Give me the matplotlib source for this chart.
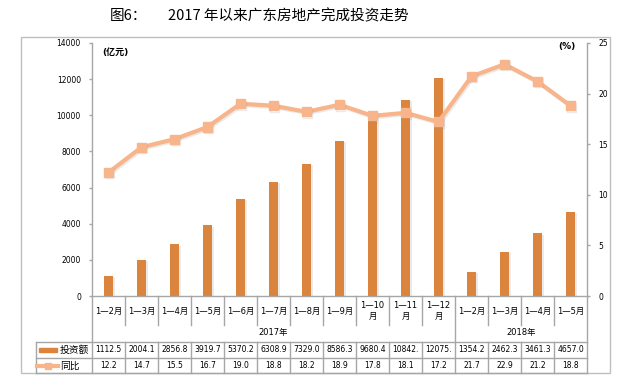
import matplotlib
matplotlib.use("Agg")
import matplotlib.pyplot as plt
import matplotlib.patheffects as pe
from matplotlib import transforms
from matplotlib.patches import Rectangle
import numpy as np

plt.rcParams['font.family'] = ['DejaVu Sans', 'Noto Sans CJK SC']

# data
months = ["1—2月", "1—3月", "1—4月", "1—5月", "1—6月", "1—7月", "1—8月",
          "1—9月", "1—10\n月", "1—11\n月", "1—12\n月",
          "1—2月", "1—3月", "1—4月", "1—5月"]
years = ["2017年", "2018年"]
year_counts = [11, 4]
invest = [1112.5, 2004.1, 2856.8, 3919.7, 5370.2, 6308.9, 7329.0, 8586.3,
          9680.4, 10842.0, 12075.0, 1354.2, 2462.3, 3461.3, 4657.0]
yoy = [12.2, 14.7, 15.5, 16.7, 19.0, 18.8, 18.2, 18.9, 17.8, 18.1, 17.2,
       21.7, 22.9, 21.2, 18.8]

BAR = "#DB843D"
LINE = "#F8B48A"
GRID = "#A6A6A6"
W, H = 630, 386

fig = plt.figure(figsize=(W / 100, H / 100), dpi=100)

# overlay in pixel coordinates (y downwards) for frame, table and labels
ov = fig.add_axes([0, 0, 1, 1])
ov.set_xlim(0, W)
ov.set_ylim(H, 0)
ov.set_axis_off()

ax = fig.add_axes([92 / W, 1 - 296 / H, (587 - 92) / W, (296 - 43) / H])
ax2 = ax.twinx()

x = np.arange(len(months))
ax.bar(x, invest, width=0.28, color=BAR, zorder=2,
       path_effects=[pe.SimplePatchShadow(offset=(1, -1), shadow_rgbFace="#999999", alpha=0.2),
                     pe.Normal()])
ax2.plot(x, yoy, color=LINE, lw=3, marker="s", ms=6.5, mec=LINE, mfc=LINE, zorder=3,
         path_effects=[pe.SimpleLineShadow(offset=(1, -1), shadow_color="#999999", alpha=0.2),
                       pe.Normal()])

ax.set_xlim(-0.5, len(months) - 0.5)
ax.set_ylim(0, 14000)
ax.set_yticks(np.arange(0, 14001, 2000))
ax2.set_ylim(0, 25)
ax2.set_yticks(np.arange(0, 26, 5))
ax.set_xticks([])

for a in (ax, ax2):
    a.patch.set_visible(False)
    a.spines["top"].set_visible(False)
    for s in a.spines.values():
        s.set_color(GRID)
        s.set_linewidth(1)
    a.tick_params(axis="y", direction="out", length=2.5, width=1, color=GRID,
                  labelsize=5.5, pad=5.5)
ax.spines["right"].set_visible(False)
ax2.spines["left"].set_visible(False)
ax2.spines["bottom"].set_visible(False)

# outer frame
ov.add_patch(Rectangle((21, 37), 589, 336, fill=False, ec="#BFBFBF", lw=1))

# title
ov.text(110, 16, "图6：", fontsize=10.5, va="center", ha="left",
        family=["Noto Sans CJK SC"], fontweight="medium")
ov.text(168, 16, "2017 年以来广东房地产完成投资走势", fontsize=10.5, va="center",
        ha="left", family=["Noto Sans CJK SC"], fontweight="medium")

# unit labels
ov.text(102, 52, "(亿元)", fontsize=6.5, fontweight="bold", va="center", ha="left")
ov.text(558, 47, "(%)", fontsize=6.5, fontweight="bold", va="center", ha="left")

# table under the axis: x from ax data, y in pixels
bt = transforms.blended_transform_factory(ax.transData, ov.transData)
n = len(months)
y_axis, y_cat, y_row1, y_row2, y_bot = 296, 325, 341.7, 357.7, 373
split = year_counts[0]
for i in range(n + 1):
    b = i - 0.5
    if i in (0, split, n):
        ax.plot([b, b], [y_axis, y_bot], transform=bt, color=GRID, lw=1, clip_on=False)
    else:
        ax.plot([b, b], [y_axis, y_cat], transform=bt, color=GRID, lw=1, clip_on=False)
        ax.plot([b, b], [y_row1, y_bot], transform=bt, color=GRID, lw=1, clip_on=False)

x_right = ov.transData.inverted().transform(ax.transData.transform((n - 0.5, 0)))[0]
for yy in (y_row1, y_row2, y_bot):
    ov.plot([35.7, x_right], [yy, yy], color=GRID, lw=1)
ov.plot([35.7, 35.7], [y_row1, y_bot], color=GRID, lw=1)

for i, m in enumerate(months):
    ax.text(i, 311, m, transform=bt, ha="center", va="center", fontsize=6,
            linespacing=1.3)
    ax.text(i, 349.7, f"{invest[i]:.1f}"[:6], transform=bt, ha="center",
            va="center", fontsize=5.5)
    ax.text(i, 365.7, f"{yoy[i]:.1f}", transform=bt, ha="center",
            va="center", fontsize=5.5)

start = 0
for yr, cnt in zip(years, year_counts):
    ax.text(start + (cnt - 1) / 2, 333, yr, transform=bt, ha="center",
            va="center", fontsize=6)
    start += cnt

# legend cells
ov.add_patch(Rectangle((39, 347.5), 18, 4.5, color=BAR))
ov.text(60, 349.7, "投资额", fontsize=7, va="center", ha="left")
ov.plot([37, 58], [365.7, 365.7], color=LINE, lw=3)
ov.plot([48], [365.7], marker="s", ms=5, color=LINE)
ov.text(60, 365.7, "同比", fontsize=7, va="center", ha="left")

fig.savefig("out.png", dpi=100)
